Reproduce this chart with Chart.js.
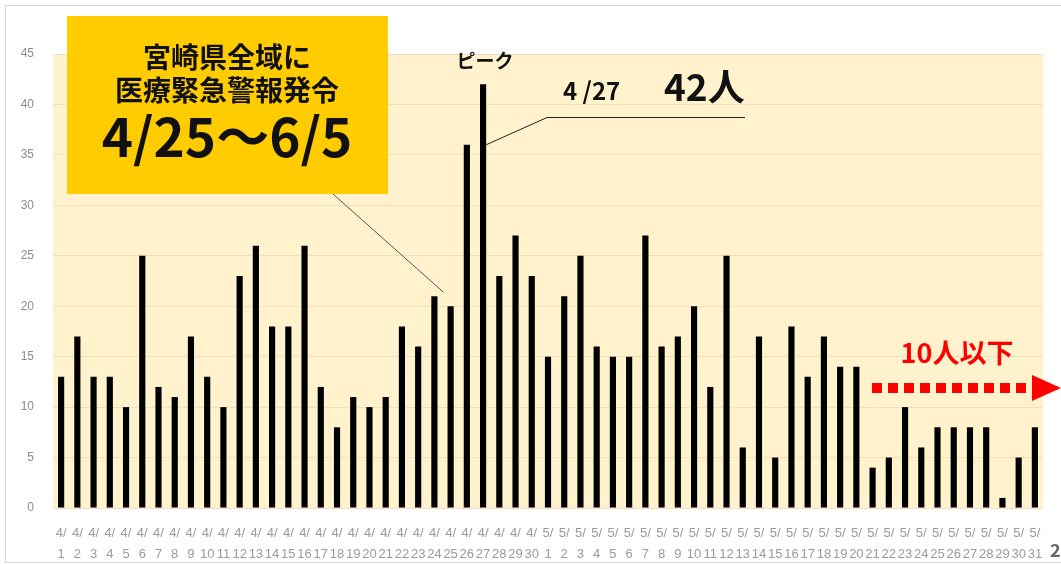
<!DOCTYPE html>
<html>
<head>
<meta charset="utf-8">
<script src="https://cdn.jsdelivr.net/npm/chart.js@4.4.0/dist/chart.umd.min.js"></script>
<style>
  html, body { margin: 0; padding: 0; background: #fff; }
  canvas { display: block; }
</style>
</head>
<body>
<canvas id="caseChart" width="1061" height="564"></canvas>
<script>
// ngay (truc x)
const categories = [
  "4/1","4/2","4/3","4/4","4/5","4/6","4/7","4/8","4/9","4/10",
  "4/11","4/12","4/13","4/14","4/15","4/16","4/17","4/18","4/19","4/20",
  "4/21","4/22","4/23","4/24","4/25","4/26","4/27","4/28","4/29","4/30",
  "5/1","5/2","5/3","5/4","5/5","5/6","5/7","5/8","5/9","5/10",
  "5/11","5/12","5/13","5/14","5/15","5/16","5/17","5/18","5/19","5/20",
  "5/21","5/22","5/23","5/24","5/25","5/26","5/27","5/28","5/29","5/30","5/31"
];

// so ca moi ngay
const aprilCases = [13,17,13,13,10,25,12,11,17,13,10,23,26,18,18,26,12,8,11,10,11,18,16,21,20,36,42,23,27,23];
const mayCases = [15,21,25,16,15,15,27,16,17,20,12,25,6,17,5,18,13,17,14,14,4,5,10,6,8,8,8,8,1,5,8];
const dailyCases = aprilCases.concat(mayCases);

// truc y
const yMin = 0;
const yMax = 45;
const yStep = 5;

// chu chu thich
const boxLines = ["宮崎県全域に", "医療緊急警報発令", "4/25〜6/5"];
const peakLabel = "ピーク";
const peakDate = "4 /27";
const peakValue = "42人";
const lowLabel = "10人以下";
const peakIndex = 26;
const pageNo = "2";

const CJK = '"Noto Sans CJK JP", "Noto Sans", sans-serif';

// ve nen + khung
const backgroundPlugin = {
  id: "bg",
  beforeDraw(chart) {
    const { ctx, chartArea } = chart;
    ctx.save();
    ctx.fillStyle = "#fff";
    ctx.fillRect(0, 0, chart.width, chart.height);
    ctx.strokeStyle = "#d9d9d9";
    ctx.lineWidth = 1;
    ctx.beginPath();
    ctx.moveTo(chart.width, 5.5);
    ctx.lineTo(5.5, 5.5);
    ctx.lineTo(5.5, 562.5);
    ctx.lineTo(chart.width, 562.5);
    ctx.stroke();
    ctx.fillStyle = "#fff2cc";
    ctx.fillRect(chartArea.left, chartArea.top, chartArea.right - chartArea.left, chartArea.bottom - chartArea.top);
    ctx.restore();
  }
};

// ve cac chu thich
const notePlugin = {
  id: "notes",
  afterDraw(chart) {
    const { ctx } = chart;
    const xs = chart.scales.x;
    const ys = chart.scales.y;
    ctx.save();

    // duong chi tu hop vang
    ctx.strokeStyle = "#555";
    ctx.lineWidth = 1;
    ctx.beginPath();
    ctx.moveTo(333, 194);
    ctx.lineTo(xs.getPixelForValue(23) + 9, ys.getPixelForValue(21) - 4);
    ctx.stroke();

    // hop vang
    ctx.fillStyle = "#ffcc00";
    ctx.fillRect(67, 16, 321, 178);
    ctx.fillStyle = "#111";
    ctx.textAlign = "center";
    ctx.textBaseline = "middle";
    ctx.font = "bold 28px " + CJK;
    ctx.fillText(boxLines[0], 227, 57);
    ctx.fillText(boxLines[1], 227, 90);
    ctx.font = "bold 53px " + CJK;
    ctx.fillText(boxLines[2], 227, 137);

    // dinh
    ctx.font = "bold 19px " + CJK;
    ctx.fillText(peakLabel, 485, 61);

    const px = xs.getPixelForValue(peakIndex) + 3;
    const py = ys.getPixelForValue(36);
    ctx.strokeStyle = "#222";
    ctx.beginPath();
    ctx.moveTo(px, py);
    ctx.lineTo(547, 117.5);
    ctx.lineTo(745, 117.5);
    ctx.stroke();

    ctx.textAlign = "left";
    ctx.font = "bold 24px " + CJK;
    ctx.fillText(peakDate, 563, 91);
    ctx.font = "bold 37px " + CJK;
    ctx.fillText(peakValue, 664, 87);

    // 10 nguoi tro xuong
    ctx.fillStyle = "#ff0000";
    ctx.textAlign = "center";
    ctx.font = "bold 27px " + CJK;
    ctx.fillText(lowLabel, 957, 353);

    ctx.strokeStyle = "#ff0000";
    ctx.lineWidth = 10;
    ctx.setLineDash([10, 6]);
    ctx.beginPath();
    ctx.moveTo(872, 388);
    ctx.lineTo(1028, 388);
    ctx.stroke();
    ctx.setLineDash([]);
    ctx.beginPath();
    ctx.moveTo(1032, 375);
    ctx.lineTo(1061, 388);
    ctx.lineTo(1032, 401);
    ctx.closePath();
    ctx.fill();

    // so trang
    ctx.fillStyle = "#666";
    ctx.textAlign = "left";
    ctx.font = "bold 18px " + CJK;
    ctx.fillText(pageNo, 1050, 550);
    ctx.restore();
  }
};

const ctx = document.getElementById("caseChart").getContext("2d");
new Chart(ctx, {
  type: "bar",
  data: {
    labels: categories,
    datasets: [{
      data: dailyCases,
      backgroundColor: "#000",
      barPercentage: 0.38,
      categoryPercentage: 1
    }]
  },
  options: {
    responsive: false,
    devicePixelRatio: 1,
    animation: false,
    layout: { padding: { top: 54, right: 18, left: 0, bottom: 0 } },
    plugins: {
      legend: { display: false },
      tooltip: { enabled: false }
    },
    scales: {
      x: {
        grid: { display: false },
        border: { display: false },
        afterFit(scale) { scale.height = 56; },
        ticks: {
          autoSkip: false,
          maxRotation: 0,
          minRotation: 0,
          padding: 7,
          color: "#9a9a9a",
          font: { family: '"Liberation Sans", sans-serif', size: 13, lineHeight: 1.6 },
          callback(value, i) {
            const parts = categories[i].split("/");
            return [parts[0] + "/", parts[1]];
          }
        }
      },
      y: {
        min: yMin,
        max: yMax,
        border: { display: false },
        grid: { color: "#efdfbc", drawTicks: false },
        afterFit(scale) { scale.width = 53; },
        ticks: {
          stepSize: yStep,
          padding: 19,
          color: "#8c8c8c",
          font: { family: '"Liberation Sans", sans-serif', size: 12 }
        }
      }
    }
  },
  plugins: [backgroundPlugin, notePlugin]
});
</script>
</body>
</html>
